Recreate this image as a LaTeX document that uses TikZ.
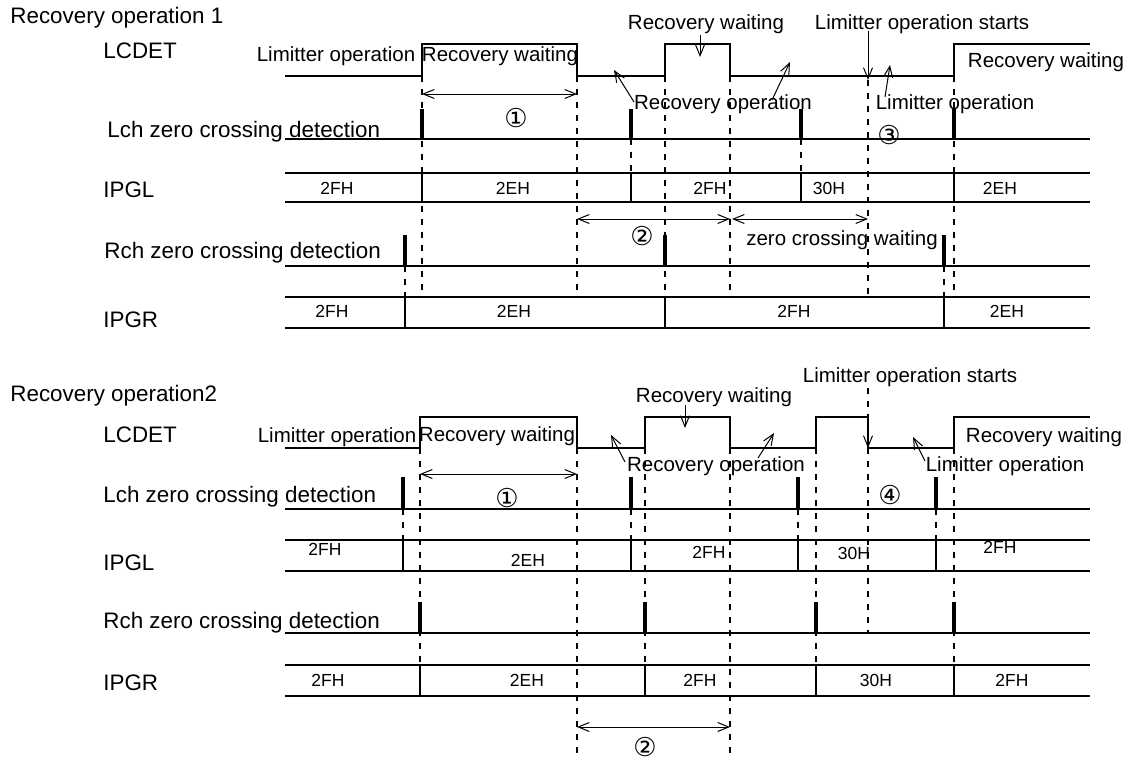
\documentclass[tikz,border=0pt]{standalone}
\usepackage{fontspec}
\setmainfont{Liberation Sans}
\newfontfamily\circfont{DejaVu Sans}
\usetikzlibrary{arrows.meta}
\tikzset{
  wave/.style={line width=0.7pt,draw=black},
  bus/.style={line width=1.3pt,draw=black},
  edge/.style={line width=0.9pt,draw=black},
  pulse/.style={line width=2pt,draw=black},
  guide/.style={line width=0.6pt,draw=black,dash pattern=on 3pt off 3.5pt},
  span/.style={{Straight Barb[length=5.5pt,width=4.5pt]}-{Straight Barb[length=5.5pt,width=4.5pt]},line width=0.5pt},
  pointer/.style={-{Straight Barb[length=5.5pt,width=4.5pt]},line width=0.5pt},
  sig/.style={anchor=base west,font=\fontsize{11.2}{13}\selectfont},
  note/.style={anchor=base},
  val/.style={font=\fontsize{8.75}{10}\selectfont},
  num/.style={font=\circfont\fontsize{13}{14}\selectfont}
}

\begin{document}
\begin{tikzpicture}[x=0.5pt,y=-0.5pt,every node/.style={font=\fontsize{10.25}{12}\selectfont,inner sep=0pt}]
  \useasboundingbox (0,0) rectangle (1133,760);
  % ---- Recovery operation 1
  \node[sig] (title1) at (10,24) {Recovery operation 1};
  \node[sig] (lcdet1) at (103,58) {LCDET};
  \node[sig] (lch1) at (107,137) {Lch zero crossing detection};
  \node[sig] (ipgl1) at (103,197) {IPGL};
  \node[sig] (rch1) at (104,258) {Rch zero crossing detection};
  \node[sig] (ipgr1) at (103,327) {IPGR};
  \draw[wave] (285,76) -| (422,44) -| (577,76) -| (665,44) -| (730,76) -| (954,44) -- (1090,44);
  \draw[wave] (285,139) -- (1090,139);
  \foreach \x in {422,631,801,954}{\draw[pulse] (\x,109)--(\x,139);}
  \draw[bus] (285,173)--(1090,173) (285,202)--(1090,202);
  \foreach \x in {422,631,801,954}{\draw[edge] (\x,173)--(\x,202);}
  \foreach \x/\t in {337/2FH,513/2EH,710/2FH,829/30H,1000/2EH}{\node[val] (gl1-\x) at (\x,188){\t};}
  \draw[wave] (285,266) -- (1090,266);
  \foreach \x in {405,665,944}{\draw[pulse] (\x,235)--(\x,266);}
  \draw[bus] (285,297)--(1090,297) (285,328)--(1090,328);
  \foreach \x in {405,665,944}{\draw[edge] (\x,297)--(\x,328);}
  \foreach \x/\t in {332/2FH,514/2EH,794/2FH,1007/2EH}{\node[val] (gr1-\x) at (\x,311){\t};}
  \foreach \x in {422,577,665,730,954}{\draw[guide] (\x,76)--(\x,297);}
  \draw[guide] (868,80)--(868,297);
  \foreach \x in {631,801}{\draw[guide] (\x,139)--(\x,173);}
  \foreach \x in {405,944}{\draw[guide] (\x,266)--(\x,297);}
  % notes
  \node[note] (lim1) at (336,61) {Limitter operation};
  \node[note] (wait1) at (500,61) {Recovery waiting};
  \node[note] (wtop1) at (706,29) {Recovery waiting};
  \node[note] (start1) at (922,29) {Limitter operation starts};
  \node[note] (rec1) at (723,109) {Recovery operation};
  \node[note] (limr1) at (955,109) {Limitter operation};
  \node[note] (wr1) at (1046,67) {Recovery waiting};
  \node[note] (zcw1) at (842,245) {zero crossing waiting};
  \node[num] (c1a) at (516,118) {①};
  \node[num] (c2a) at (642,236) {②};
  \node[num] (c3a) at (889,135) {③};
  \draw[span] (422,94)--(577,94);
  \draw[span] (577,219)--(730,219);
  \draw[span] (732,219)--(868,219);
  \draw[pointer] (700,35)--(700,57);
  \draw[pointer] (868,31)--(868,80);
  \draw[pointer] (634,102)--(614,70);
  \draw[pointer] (772,100)--(790,62);
  \draw[pointer] (885,97)--(890,65);
  % ---- Recovery operation 2
  \node[sig] (title2) at (10,401) {Recovery operation2};
  \node[sig] (lcdet2) at (103,442) {LCDET};
  \node[sig] (lch2) at (103,502) {Lch zero crossing detection};
  \node[sig] (ipgl2) at (103,570) {IPGL};
  \node[sig] (rch2) at (103,628) {Rch zero crossing detection};
  \node[sig] (ipgr2) at (103,690) {IPGR};
  \draw[wave] (285,448) -| (420,417) -| (577,448) -| (645,417) -| (730,448) -| (816,417) -| (868,448) -| (954,417) -- (1090,417);
  \draw[wave] (285,509) -- (1090,509);
  \foreach \x in {403,631,798,936}{\draw[pulse] (\x,477)--(\x,509);}
  \draw[bus] (285,540)--(1090,540) (285,571)--(1090,571);
  \foreach \x in {403,631,798,936}{\draw[edge] (\x,540)--(\x,571);}
  \foreach \x/\t/\y in {325/2FH/549,528/2EH/560,709/2FH/552,854/30H/553,1000/2FH/547}{\node[val] (gl2-\x) at (\x,\y){\t};}
  \draw[wave] (285,633) -- (1090,633);
  \foreach \x in {420,645,816,954}{\draw[pulse] (\x,602)--(\x,633);}
  \draw[bus] (285,665)--(1090,665) (285,696)--(1090,696);
  \foreach \x in {420,645,816,954}{\draw[edge] (\x,665)--(\x,696);}
  \foreach \x/\t in {328/2FH,527/2EH,700/2FH,876/30H,1012/2FH}{\node[val] (gr2-\x) at (\x,680){\t};}
  \foreach \x in {403,631,798,936}{\draw[guide] (\x,509)--(\x,540);}
  \foreach \x in {420,645,816,954}{\draw[guide] (\x,448)--(\x,665);}
  \foreach \x in {577,730}{\draw[guide] (\x,448)--(\x,760);}
  \draw[guide] (868,388)--(868,417) (868,448)--(868,633);
  % notes
  \node[note] (lim2) at (337,442) {Limitter operation};
  \node[note] (wait2) at (497,441) {Recovery waiting};
  \node[note] (wtop2) at (714,402) {Recovery waiting};
  \node[note] (start2) at (910,382) {Limitter operation starts};
  \node[note] (rec2) at (716,471) {Recovery operation};
  \node[note] (limr2) at (1005,471) {Limitter operation};
  \node[note] (wr2) at (1044,442) {Recovery waiting};
  \node[num] (c1b) at (507,498) {①};
  \node[num] (c2b) at (645,747) {②};
  \node[num] (c4b) at (890,495) {④};
  \draw[span] (420,474)--(577,474);
  \draw[span] (577,727)--(730,727);
  \draw[pointer] (685,405)--(685,428);
  \draw[pointer] (868,417)--(868,448);
  \draw[pointer] (625,462)--(611,435);
  \draw[pointer] (758,458)--(774,433);
  \draw[pointer] (925,461)--(913,437);
\end{tikzpicture}
\end{document}
